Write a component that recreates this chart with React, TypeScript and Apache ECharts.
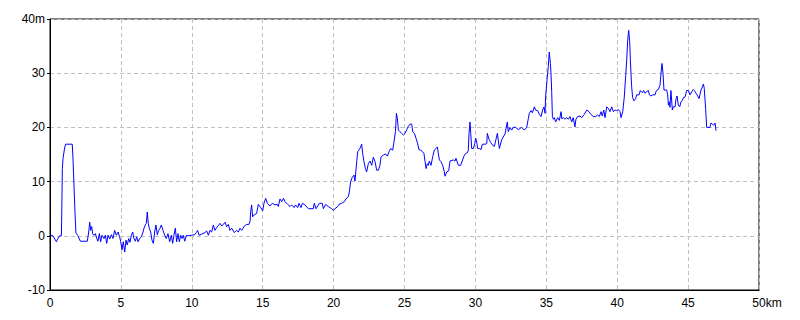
import React, { useEffect, useRef } from "react";
import * as echarts from "echarts";

const distKm = [
  0.05, 0.21, 0.45, 0.56, 0.68, 0.8, 0.82, 0.87, 0.92, 1.03, 1.1, 1.57, 1.62, 1.69, 1.76, 1.83, 1.97, 2.14, 2.63,
  2.73, 2.8, 2.87, 2.94, 3.01, 3.1, 3.2, 3.29, 3.38, 3.48, 3.57, 3.67, 3.81, 3.9, 4.0, 4.09, 4.21, 4.33, 4.44,
  4.56, 4.68, 4.8, 4.91, 4.98, 5.08, 5.17, 5.27, 5.36, 5.45, 5.55, 5.64, 5.74, 5.83, 5.92, 6.02, 6.11, 6.21,
  6.32, 6.44, 6.56, 6.63, 6.72, 6.79, 6.86, 6.93, 7.0, 7.1, 7.19, 7.29, 7.38, 7.47, 7.57, 7.66, 7.76, 7.85,
  7.97, 8.09, 8.2, 8.32, 8.44, 8.56, 8.65, 8.74, 8.84, 8.93, 9.03, 9.12, 9.22, 9.31, 9.4, 9.5, 9.62, 9.73,
  9.97, 10.2, 10.32, 10.41, 10.51, 10.7, 10.93, 11.05, 11.17, 11.28, 11.4, 11.52, 11.63, 11.75, 11.99, 12.11,
  12.22, 12.34, 12.46, 12.58, 12.69, 12.81, 13.0, 13.16, 13.28, 13.4, 13.52, 13.71, 13.87, 14.03, 14.11, 14.15,
  14.22, 14.29, 14.41, 14.57, 14.69, 14.86, 15.0, 15.09, 15.21, 15.33, 15.51, 15.68, 15.87, 16.03, 16.1, 16.22,
  16.34, 16.46, 16.57, 16.76, 16.93, 17.04, 17.21, 17.32, 17.47, 17.56, 17.7, 17.8, 17.98, 18.22, 18.57, 18.64,
  18.76, 19.0, 19.2, 19.28, 19.44, 19.63, 19.86, 19.98, 20.1, 20.29, 20.38, 20.57, 20.76, 20.87, 21.04, 21.11,
  21.2, 21.32, 21.44, 21.51, 21.63, 21.7, 21.81, 21.91, 21.98, 22.05, 22.14, 22.24, 22.33, 22.45, 22.57, 22.69,
  22.8, 22.92, 23.04, 23.16, 23.27, 23.34, 23.51, 23.67, 23.79, 23.91, 24.02, 24.17, 24.28, 24.36, 24.43, 24.5,
  24.57, 24.68, 24.8, 24.92, 25.04, 25.16, 25.27, 25.39, 25.51, 25.58, 25.7, 25.81, 25.93, 26.02, 26.14, 26.28,
  26.37, 26.45, 26.52, 26.61, 26.68, 26.75, 26.87, 26.99, 27.1, 27.22, 27.32, 27.39, 27.46, 27.57, 27.69, 27.81,
  27.86, 27.98, 28.12, 28.21, 28.44, 28.56, 28.63, 28.8, 28.96, 29.1, 29.19, 29.31, 29.43, 29.5, 29.55, 29.62,
  29.67, 29.74, 29.86, 29.95, 30.02, 30.09, 30.16, 30.28, 30.4, 30.49, 30.68, 30.8, 30.84, 30.96, 31.08, 31.22,
  31.34, 31.45, 31.55, 31.69, 31.85, 32.09, 32.25, 32.32, 32.44, 32.56, 32.67, 32.84, 33.03, 33.26, 33.45, 33.62,
  33.73, 33.8, 33.92, 34.02, 34.16, 34.25, 34.39, 34.51, 34.63, 34.74, 34.84, 34.91, 34.95, 35.05, 35.14, 35.21,
  35.29, 35.33, 35.38, 35.43, 35.5, 35.57, 35.66, 35.8, 35.92, 36.04, 36.09, 36.2, 36.32, 36.44, 36.55, 36.67,
  36.79, 36.9, 37.02, 37.09, 37.21, 37.38, 37.49, 37.68, 37.85, 38.01, 38.15, 38.32, 38.48, 38.62, 38.74, 38.86,
  38.95, 39.05, 39.14, 39.26, 39.38, 39.49, 39.61, 39.73, 39.85, 39.96, 40.08, 40.2, 40.27, 40.39, 40.5, 40.6,
  40.67, 40.74, 40.81, 40.88, 40.93, 40.97, 41.02, 41.09, 41.18, 41.3, 41.37, 41.54, 41.63, 41.77, 41.87, 41.96,
  42.08, 42.2, 42.27, 42.38, 42.5, 42.67, 42.76, 42.9, 43.02, 43.09, 43.16, 43.23, 43.3, 43.49, 43.56, 43.61,
  43.68, 43.72, 43.79, 43.89, 43.96, 44.08, 44.15, 44.22, 44.31, 44.41, 44.5, 44.6, 44.67, 44.78, 44.9, 45.02,
  45.14, 45.26, 45.37, 45.44, 45.56, 45.68, 45.77, 45.91, 46.01, 46.08, 46.14, 46.24, 46.31, 46.54, 46.61, 46.71,
  46.8, 46.9, 46.97,
];

const elevM = [
  0.1, 0, -1.1, -0.5, 0, 0, 2.6, 12.4, 14.3, 16.2, 16.9, 16.9, 14.3, 9.4, 4.4, 0.5, 0, -1.0, -1.0,
  0.7, 2.5, 1.0, 1.7, 0.4, 0.1, 0.4, -0.4, -1.0, 0.4, -1.1, 0.1, -0.5, 0.1, -1.4, 0.1, -0.6, 0.2, -0.5,
  1.0, 0.1, 0.7, -0.2, -1.0, -2.6, -1.1, -3.0, -0.8, -1.7, -0.5, -1.2, 0.1, 0.7, -0.5, -1.0, -0.2, -1.1,
  -0.5, -0.2, 0.7, 1.4, 2.0, 2.3, 4.4, 2.3, 1.4, 0.7, -0.8, -1.4, 0.7, 2.0, 0.2, 1.0, 1.4, 2.0,
  1.0, 0.1, -0.5, 0.4, -1.1, 0.1, -1.4, 0.1, 1.4, -1.1, 0.4, -1.1, 0.1, -0.5, 0.1, -1.0, 0.1, 0,
  0.1, 0.2, 0.6, 1.0, 0.1, 0.3, 0.6, 0.9, 0.1, 1.0, 0.7, 2.0, 1.0, 1.5, 2.3, 1.8,
  2.1, 2.5, 1.7, 2.1, 1.0, 1.4, 0.6, 1.0, 0.7, 1.4, 1.0, 1.8, 2.1, 2.1, 2.7, 4.4,
  5.7, 3.5, 3.9, 4.1, 5.8, 5.2, 4.6, 6.0, 6.9, 6.0, 5.5, 6.0, 5.7, 5.8, 5.4, 6.8,
  6.3, 6.9, 6.3, 5.8, 5.4, 5.7, 5.2, 5.7, 5.2, 6.0, 5.2, 6.0, 5.7, 5.0, 5.0, 6.0,
  5.0, 6.0, 6.0, 5.0, 5.8, 5.4, 5.0, 4.7, 5.0, 5.4, 5.8, 6.0, 6.3, 6.8, 7.2, 8.1,
  10.0, 10.8, 11.2, 10.1, 13.7, 15.5, 15.9, 16.4, 16.9, 15.2, 13.7, 12.4, 11.8, 13.3, 13.8, 13.0,
  14.5, 13.7, 12.1, 12.1, 13.0, 14.5, 14.9, 15.1, 14.7, 15.5, 16.1, 15.8, 17.7, 19.2, 22.6, 21.6,
  19.5, 19.2, 18.9, 18.6, 18.9, 19.6, 20.2, 20.6, 20.6, 19.2, 18.9, 18.0, 17.0, 15.9, 15.8, 15.5,
  15.2, 13.7, 12.4, 13.3, 13.0, 13.8, 13.0, 14.6, 15.8, 16.1, 16.4, 15.1, 14.0, 13.7, 13.0, 11.8,
  11.0, 11.8, 12.0, 13.8, 14.0, 13.8, 14.3, 13.0, 13.0, 14.0, 14.7, 15.2, 15.3, 15.8, 18.9, 21.0,
  18.9, 16.1, 16.1, 17.0, 18.0, 17.3, 16.1, 16.1, 15.9, 16.9, 16.9, 17.0, 18.9, 17.8, 17.2, 16.7,
  16.5, 17.8, 18.9, 16.1, 17.7, 18.8, 21.0, 19.2, 20.0, 19.5, 20.0, 20.0, 19.6, 20.0, 19.5, 20.0,
  21.6, 22.6, 23.1, 22.7, 23.8, 23.2, 23.1, 22.4, 22.0, 23.2, 23.8, 22.6, 25.6, 28.7, 31.2, 33.9,
  31.8, 30.0, 26.6, 22.0, 21.5, 21.8, 21.0, 21.8, 21.3, 22.9, 21.6, 21.8, 21.5, 21.8, 21.5, 22.0,
  21.0, 21.8, 20.1, 21.5, 22.0, 22.1, 21.8, 22.4, 23.2, 22.9, 22.4, 22.0, 22.0, 22.3, 22.0, 22.9,
  22.1, 23.2, 21.8, 23.8, 23.5, 22.9, 23.8, 22.9, 23.2, 23.1, 23.3, 22.9, 21.8, 22.9, 25.6, 29.6,
  32.4, 36.1, 37.9, 35.8, 32.4, 30.0, 27.5, 25.5, 24.9, 25.3, 26.0, 26.0, 26.8, 26.4, 26.8, 26.3,
  26.6, 26.8, 26.0, 25.8, 26.0, 26.0, 26.8, 27.0, 27.8, 30.0, 31.8, 30.0, 26.9, 26.9, 26.0, 24.1,
  24.7, 23.7, 26.8, 23.2, 23.8, 23.8, 25.3, 25.8, 24.1, 23.8, 24.7, 25.0, 25.5, 25.6, 26.8, 26.8,
  26.0, 26.6, 27.0, 26.8, 26.3, 25.8, 25.3, 26.9, 27.5, 28.0, 27.2, 23.3, 20.0, 20.0, 20.8, 20.6,
  20.4, 20.8, 19.4,
];

const xTicks = [0, 5, 10, 15, 20, 25, 30, 35, 40, 45, 50];
const yTicks = [-10, 0, 10, 20, 30, 40];

const FONT = "Liberation Sans";

export default function App() {
  const ref = useRef<HTMLDivElement>(null);
  useEffect(() => {
    if (!ref.current) return;
    const chart = echarts.init(ref.current, null, { renderer: "svg" });
    const data = distKm.map((d, i) => [d, elevM[i]]);
    const xMax = xTicks[xTicks.length - 1];
    const yMax = yTicks[yTicks.length - 1];
    chart.setOption({
      animation: false,
      backgroundColor: "#ffffff",
      grid: {
        left: 50,
        right: 41,
        top: 19,
        bottom: 30,
        show: true,
        borderColor: "#000000",
        borderWidth: 1,
        backgroundColor: "transparent",
      },
      xAxis: {
        type: "value",
        min: xTicks[0],
        max: xMax,
        interval: 5,
        axisLine: { show: true, onZero: false, lineStyle: { color: "#000", width: 1 } },
        axisTick: { show: false },
        splitLine: { show: true, lineStyle: { color: "#c0c0c0", type: [4, 3], width: 1 } },
        axisLabel: {
          color: "#000",
          fontFamily: FONT,
          fontSize: 12,
          margin: 7,
          formatter: (v: number) => (v === xMax ? "{a|" + v + "}{u|km}" : String(v)),
          rich: {
            a: { color: "#000", fontFamily: FONT, fontSize: 12, padding: [0, 0, 0, 16] },
            u: { color: "#000", fontFamily: FONT, fontSize: 12 },
          },
        },
      },
      yAxis: {
        type: "value",
        min: yTicks[0],
        max: yMax,
        interval: 10,
        axisLine: { show: true, onZero: false, lineStyle: { color: "#000", width: 1 } },
        axisTick: { show: true, length: 3, lineStyle: { color: "#000" } },
        splitLine: { show: true, lineStyle: { color: "#c0c0c0", type: [4, 3], width: 1 } },
        axisLabel: {
          color: "#000",
          fontFamily: FONT,
          fontSize: 12,
          margin: 5,
          formatter: (v: number) => (v === yMax ? v + "m" : String(v)),
        },
      },
      series: [
        {
          type: "line",
          data,
          showSymbol: false,
          symbol: "none",
          lineStyle: { color: "#0000ff", width: 1 },
        },
      ],
    });
    return () => chart.dispose();
  }, []);
  return <div ref={ref} style={{ width: 800, height: 320, position: "absolute", left: 0, top: 0 }} />;
}
